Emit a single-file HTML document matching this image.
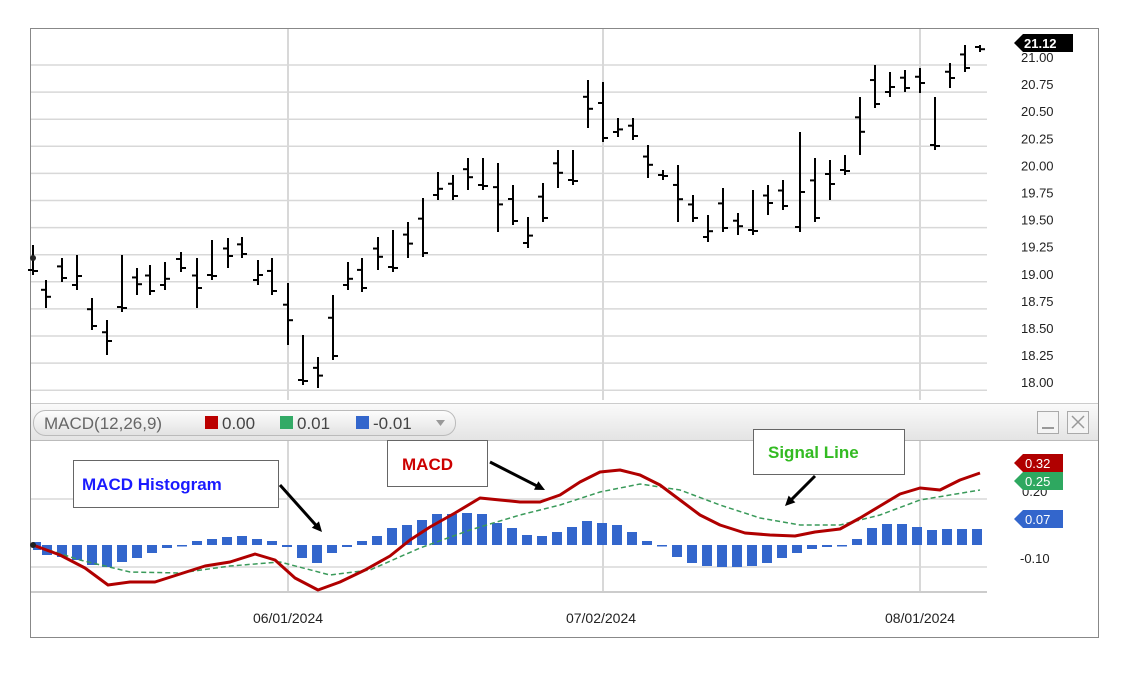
<!DOCTYPE html>
<html><head><meta charset="utf-8">
<style>
html,body{margin:0;padding:0;background:#fff;}
svg{display:block;font-family:"Liberation Sans",sans-serif;}
</style></head>
<body>
<svg id="s" width="1138" height="676" viewBox="0 0 1138 676" xmlns="http://www.w3.org/2000/svg">
<defs>
<linearGradient id="hg" x1="0" y1="0" x2="0" y2="1"><stop offset="0" stop-color="#fafafa"/><stop offset="1" stop-color="#e4e4e4"/></linearGradient>
<linearGradient id="pg" x1="0" y1="0" x2="0" y2="1"><stop offset="0" stop-color="#fdfdfd"/><stop offset="1" stop-color="#e2e2e2"/></linearGradient>
</defs>
<rect x="30.5" y="28.5" width="1068" height="609" fill="#fff" stroke="#888"/>
<g id="g"></g>
</svg>
<script>
const g=document.getElementById('g');let h='';
// price gridlines
for(let k=0;k<13;k++){const y=65+27.1*k;h+=`<line x1="31" x2="987" y1="${y}" y2="${y}" stroke="#d8d8d8" stroke-width="1.5"/>`;
const v=(21-0.25*k).toFixed(2);h+=`<text x="1021" y="${y-3}" font-size="13" fill="#222">${v}</text>`;}
[288,603,920].forEach(x=>{h+=`<line x1="${x}" x2="${x}" y1="29" y2="400" stroke="#d8d8d8" stroke-width="2"/><line x1="${x}" x2="${x}" y1="441" y2="592" stroke="#d8d8d8" stroke-width="2"/>`;});
// bars
const B=[[33,245,275],[46,280,308],[62,258,282],[77,255,290],[92,298,330],[107,320,355],[122,255,312],[137,268,295],[150,265,295],[165,262,290],[181,252,272],[197,258,308],[212,240,280],[228,238,268],[242,237,258],[258,260,285],[272,258,295],[288,283,345],[303,335,385],[318,357,388],[333,295,360],[348,262,290],[362,258,292],[378,237,270],[393,230,272],[408,222,258],[423,198,257],[438,172,200],[453,175,200],[468,158,190],[483,158,190],[498,163,232],[513,185,225],[528,217,248],[543,183,222],[558,150,188],[573,150,185],[588,80,128],[603,82,142],[618,118,137],[633,118,140],[648,145,178],[663,170,180],[678,165,222],[693,195,222],[708,215,242],[723,188,232],[738,213,235],[753,190,235],[768,185,215],[783,180,210],[800,132,232],[815,158,222],[830,160,200],[845,155,175],[860,97,155],[875,65,108],[890,72,97],[905,70,92],[920,68,93],[935,97,150],[950,63,88],[965,45,72],[980,45,52]];
B.forEach((b,i)=>{const[x,hi,lo]=b;const o=i%3==0?lo-5:hi+(lo-hi)*0.35,c=i%2?hi+(lo-hi)*0.6:lo-4;
h+=`<line x1="${x}" x2="${x}" y1="${hi}" y2="${lo}" stroke="#000" stroke-width="2"/><line x1="${x-5}" x2="${x}" y1="${o}" y2="${o}" stroke="#000" stroke-width="2"/><line x1="${x}" x2="${x+5}" y1="${c}" y2="${c}" stroke="#000" stroke-width="2"/>`;});
h+=`<circle cx="33" cy="258" r="3" fill="#222"/>`;
// 21.12 tag
h+=`<path d="M1014 43 L1023 34 H1073 V52 H1023 Z" fill="#000"/><text x="1024" y="48" font-size="13" font-weight="bold" fill="#fff">21.12</text>`;
// MACD header
h+=`<rect x="31" y="404" width="1067" height="36" fill="url(#hg)"/><line x1="31" x2="1098" y1="403.5" y2="403.5" stroke="#ccc"/><line x1="31" x2="1098" y1="440.5" y2="440.5" stroke="#bbb"/>`;
h+=`<rect x="33.5" y="410.5" width="422" height="25" rx="12" fill="url(#pg)" stroke="#bbb"/>`;
h+=`<text x="44" y="429" font-size="17" fill="#666">MACD(12,26,9)</text><rect x="205" y="416" width="13" height="13" fill="#b00"/><text x="222" y="429" font-size="17" fill="#444">0.00</text><rect x="280" y="416" width="13" height="13" fill="#3a6"/><text x="297" y="429" font-size="17" fill="#444">0.01</text><rect x="356" y="416" width="13" height="13" fill="#3366cc"/><text x="373" y="429" font-size="17" fill="#444">-0.01</text><path d="M436 420 h9 l-4.5 6z" fill="#999"/>`;
h+=`<rect x="1037.5" y="411.5" width="21" height="22" fill="#f4f4f4" stroke="#aaa"/><line x1="1042" x2="1054" y1="428" y2="428" stroke="#999" stroke-width="2"/><rect x="1067.5" y="411.5" width="21" height="22" fill="#f4f4f4" stroke="#aaa"/><path d="M1072 416 l12 12 M1084 416 l-12 12" stroke="#999" stroke-width="1.5"/>`;
// MACD gridlines
[499,567].forEach(y=>{h+=`<line x1="31" x2="987" y1="${y}" y2="${y}" stroke="#d8d8d8" stroke-width="1.5"/>`;});
h+=`<line x1="31" x2="987" y1="592" y2="592" stroke="#ccc" stroke-width="2"/>`;
// histogram
const H=[[47,545,555],[62,545,557],[77,545,560],[92,545,565],[107,545,567],[122,545,562],[137,545,558],[152,545,553],[167,545,548],[182,545,546],[197,541,545],[212,539,545],[227,537,545],[242,536,545],[257,539,545],[272,541,545],[287,545,547],[302,545,558],[317,545,563],[332,545,553],[347,545,547],[362,541,545],[377,536,545],[392,528,545],[407,525,545],[422,520,545],[437,514,545],[452,514,545],[467,513,545],[482,514,545],[497,523,545],[512,528,545],[527,535,545],[542,536,545],[557,532,545],[572,527,545],[587,521,545],[602,523,545],[617,525,545],[632,532,545],[647,541,545],[662,545,546],[677,545,557],[692,545,563],[707,545,566],[722,545,567],[737,545,567],[752,545,566],[767,545,563],[782,545,558],[797,545,553],[812,545,549],[827,545,547],[842,545,546],[857,539,545],[872,528,545],[887,524,545],[902,524,545],[917,527,545],[932,530,545],[947,529,545],[962,529,545],[977,529,545]];
h+=`<rect x="33" y="542" width="8" height="8" fill="#3366cc"/>`;
H.forEach(([x,a,b])=>{h+=`<rect x="${x-5}" y="${a}" width="10" height="${Math.max(b-a,1.5)}" fill="#3366cc"/>`;});
const S=[[33,545],[80,560],[130,572],[180,573],[230,566],[280,562],[330,575],[370,570],[420,548],[470,530],[520,515],[560,505],[600,492],[640,484],[680,490],[720,505],[760,518],[800,525],[840,525],[880,515],[920,500],[980,490]];
h+=`<polyline points="${S.join(' ')}" fill="none" stroke="#3a9a5a" stroke-width="1.5" stroke-dasharray="5,3"/>`;
const M=[[33,545],[60,555],[85,568],[108,585],[130,582],[155,582],[180,574],[205,566],[230,562],[255,554],[275,560],[295,578],[318,590],[340,582],[365,570],[390,556],[410,540],[430,527],[455,513],[480,498],[500,500],[520,502],[540,502],[560,495],[580,482],[600,472],[620,470],[640,475],[660,485],[680,500],[700,515],[720,525],[745,533],[770,535],[795,536],[815,532],[840,529],[860,518],[880,506],[900,494],[920,488],[940,490],[960,480],[980,473]];
h+=`<polyline points="${M.join(' ')}" fill="none" stroke="#b00000" stroke-width="3" stroke-linejoin="round"/>`;
h+=`<circle cx="33" cy="545" r="3" fill="#222"/>`;
// right labels
h+=`<text x="1022" y="496" font-size="13" fill="#222">0.20</text><text x="1020" y="563" font-size="13" fill="#222">-0.10</text>`;
function tag(y,c,t){return `<path d="M1014 ${y} L1023 ${y-9} H1063 V${y+9} H1023 Z" fill="${c}"/><text x="1025" y="${y+5}" font-size="13" fill="#fff">${t}</text>`;}
h+=tag(463,'#b00000','0.32')+tag(481,'#2ea860','0.25')+tag(519,'#3366cc','0.07');
// annotation boxes
h+=`<rect x="73.5" y="460.5" width="205" height="47" fill="#fff" stroke="#666"/><text x="82" y="490" font-size="17" font-weight="bold" fill="#1a1aff">MACD Histogram</text>`;
h+=`<rect x="387.5" y="440.5" width="100" height="46" fill="#fff" stroke="#666"/><text x="402" y="470" font-size="17" font-weight="bold" fill="#c00">MACD</text>`;
h+=`<rect x="753.5" y="429.5" width="151" height="45" fill="#fff" stroke="#666"/><text x="768" y="458" font-size="17" font-weight="bold" fill="#33bb22">Signal Line</text>`;
function arr(x1,y1,x2,y2){const a=Math.atan2(y2-y1,x2-x1),L=11,w=0.45;return `<line x1="${x1}" y1="${y1}" x2="${x2-Math.cos(a)*6}" y2="${y2-Math.sin(a)*6}" stroke="#000" stroke-width="3"/><path d="M${x2} ${y2} L${x2-L*Math.cos(a-w)} ${y2-L*Math.sin(a-w)} L${x2-L*Math.cos(a+w)} ${y2-L*Math.sin(a+w)}Z" fill="#000"/>`;}
h+=arr(280,485,322,532)+arr(490,462,545,490)+arr(815,476,785,506);
// x labels
[[288,'06/01/2024'],[601,'07/02/2024'],[920,'08/01/2024']].forEach(([x,t])=>{h+=`<text x="${x}" y="623" font-size="14" text-anchor="middle" fill="#222">${t}</text>`;});
g.innerHTML=h;
</script>
</body></html>
